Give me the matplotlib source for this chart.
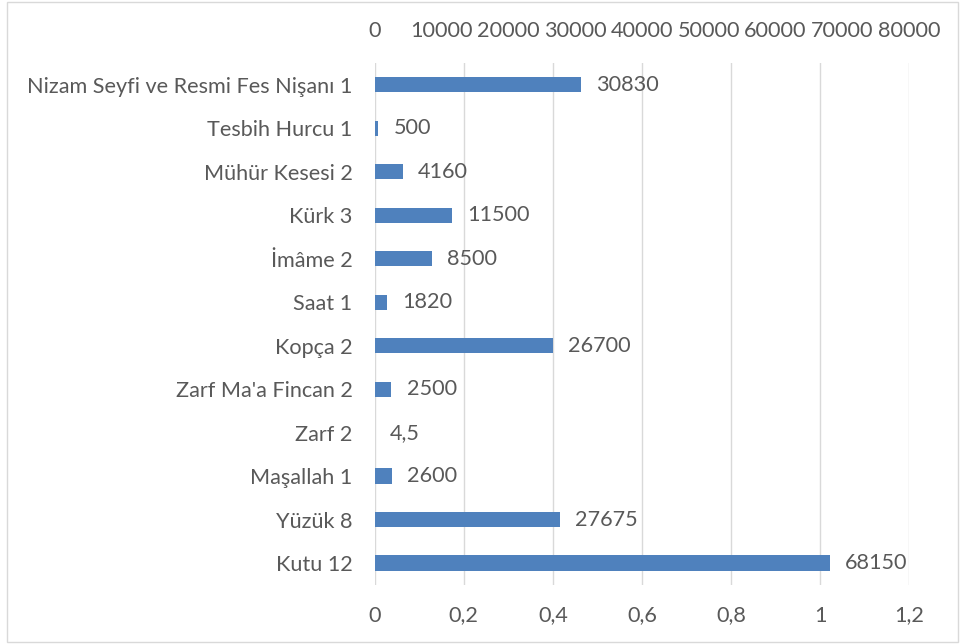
import matplotlib.pyplot as plt
from matplotlib.patches import Rectangle

# data (top to bottom as shown)
items = ["Nizam Seyfi ve Resmi Fes Nişanı 1", "Tesbih Hurcu 1", "Mühür Kesesi 2",
         "Kürk 3", "İmâme 2", "Saat 1", "Kopça 2", "Zarf Ma'a Fincan 2", "Zarf 2",
         "Maşallah 1", "Yüzük 8", "Kutu 12"]
values = [30830, 500, 4160, 11500, 8500, 1820, 26700, 2500, 4.5, 2600, 27675, 68150]
top_ticks = [0, 10000, 20000, 30000, 40000, 50000, 60000, 70000, 80000]
bottom_ticks = [0, 0.2, 0.4, 0.6, 0.8, 1.0, 1.2]

plt.rcParams['font.family'] = ['Lato', 'DejaVu Sans']
txt = '#595959'
fs = 15.6

fig = plt.figure(figsize=(9.61, 6.44), dpi=100)
fig.patches.append(Rectangle((0.007, 0.003), 0.99, 0.994, transform=fig.transFigure,
                             fill=False, edgecolor='#d9d9d9', lw=1))

# secondary (empty) axis with the gridlines, shown at the bottom
ax2 = fig.add_axes([0.390, 0.092, 0.556, 0.81])
ax2.set_xlim(0, 1.2)
ax2.set_xticks(bottom_ticks)
ax2.set_xticklabels([f'{t:g}'.replace('.', ',') for t in bottom_ticks])
ax2.set_yticks([])
ax2.grid(axis='x', color='#d9d9d9', lw=1)
ax2.set_axisbelow(True)
for s in ax2.spines.values():
    s.set_visible(False)
ax2.tick_params(axis='x', length=0, labelsize=fs, labelcolor=txt, pad=15)
ax2.yaxis.set_visible(False)

# bars on the primary axis, labels on top
ax = ax2.twiny()
ax.yaxis.set_visible(True)
y = list(range(len(items)))[::-1]
ax.barh(y, values, height=0.35, color='#4f81bd')
ax.set_xlim(0, 80000)
ax.set_ylim(-0.5, len(items) - 0.5)
ax.set_xticks(top_ticks)
ax.set_yticks(y)
ax.set_yticklabels(items)
for s in ax.spines.values():
    s.set_visible(False)
ax.tick_params(axis='x', length=0, labelsize=fs, labelcolor=txt, pad=16)
ax.tick_params(axis='y', length=0, labelsize=fs, labelcolor=txt, pad=16,
               left=True, labelleft=True, right=False, labelright=False)

for yi, v in zip(y, values):
    lab = f'{v:g}'.replace('.', ',')
    ax.annotate(lab, (v, yi), xytext=(11, 0), textcoords='offset points',
                va='center', ha='left', fontsize=fs, color=txt)

fig.savefig('out.png', dpi=100)
